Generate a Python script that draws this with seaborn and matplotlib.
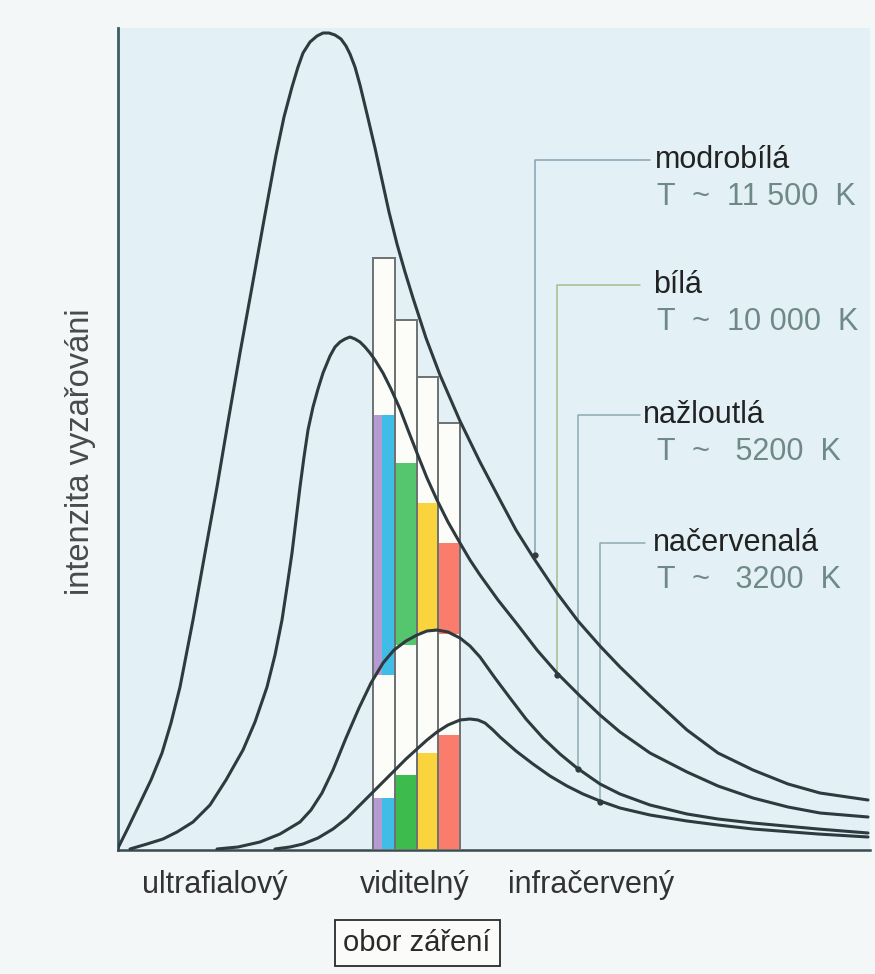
import numpy as np
import pandas as pd
import matplotlib
matplotlib.use("Agg")
import matplotlib.pyplot as plt
import seaborn as sns

# vyzarovani cerneho telesa (libovolne jednotky)
x_11500 = [0, 10, 22, 33, 44, 53, 62, 75, 87, 99, 110, 122, 134, 146, 158, 166, 174, 180, 185, 192,
           199, 205, 211, 217, 223, 228, 232, 237, 242, 249, 257, 264, 271, 279, 287, 295, 308, 322, 342, 362,
           382, 398, 415, 439, 460, 482, 502, 532, 569, 600, 635, 670, 702, 750]
y_11500 = [2, 22, 47, 70, 97, 127, 163, 230, 297, 363, 428, 497, 563, 630, 695, 733, 763, 783, 797, 808,
           814, 817, 817, 815, 811, 804, 796, 783, 765, 736, 702, 670, 638, 606, 578, 552, 512, 475, 429, 388,
           350, 320, 293, 257, 229, 204, 183, 154, 120, 97, 80, 66, 57, 50]

x_10000 = [12, 29, 45, 59, 75, 92, 108, 125, 137, 149, 157, 164, 169, 174, 178, 182, 186, 190, 195, 200,
           205, 212, 217, 222, 227, 232, 237, 242, 247, 252, 257, 265, 273, 282, 290, 299, 309, 319, 330, 342,
           352, 362, 380, 399, 419, 439, 462, 482, 502, 532, 569, 600, 635, 670, 702, 750]
y_10000 = [1, 6, 11, 18, 28, 45, 70, 100, 128, 163, 195, 230, 263, 297, 330, 363, 393, 420, 443, 461,
           477, 494, 503, 508, 511, 513, 511, 508, 503, 497, 490, 477, 461, 441, 420, 397, 372, 350, 328, 307,
           290, 275, 250, 226, 200, 177, 154, 135, 118, 97, 78, 64, 52, 43, 37, 33]

x_5200 = [99, 120, 142, 162, 182, 193, 204, 215, 228, 241, 253, 265, 276, 288, 299, 309, 319, 330, 342, 352,
          362, 377, 392, 408, 425, 442, 459, 482, 502, 532, 569, 600, 635, 700, 750]
y_5200 = [1, 3, 8, 16, 28, 40, 57, 80, 112, 142, 167, 187, 200, 209, 215, 219, 220, 218, 212, 204,
          193, 172, 152, 131, 112, 96, 82, 66, 56, 45, 36, 31, 27, 21, 17]

x_3200 = [157, 172, 185, 200, 215, 229, 242, 258, 275, 288, 299, 309, 319, 330, 342, 352, 360, 367, 375, 382,
          398, 415, 432, 449, 465, 482, 502, 532, 569, 600, 635, 700, 750]
y_3200 = [1, 3, 6, 12, 21, 32, 45, 61, 78, 91, 101, 110, 118, 125, 130, 131, 130, 127, 120, 113,
          99, 86, 74, 64, 56, 49, 42, 35, 29, 25, 21, 16, 13]

# viditelna oblast - sloupce
col_left = [255, 277, 299, 320]
col_right = [277, 299, 320, 342]
col_top = [592, 530, 473, 427]          # uroven krivky 11 500 K

# barevne pruhy (fialova, modra, zelena, zluta, cervena)
band_left = [255, 264, 277, 299, 320]
band_right = [264, 277, 299, 320, 342]
band_colors = ["#b59bd2", "#3fbde6", "#55c56e", "#f9d43c", "#f97c6c"]
band_low_colors = ["#b59bd2", "#3fbde6", "#3dbb4c", "#f9d43c", "#f97c6c"]
upper_top = [435, 435, 387, 347, 307]      # 10 000 K
upper_bottom = [175, 175, 205, 218, 216]   # 5200 K
lower_top = [52, 52, 75, 97, 115]          # 3200 K

# popisky
names = ["modrobílá", "bílá", "nažloutlá", "načervenalá"]
temps = ["T  ~  11 500  K", "T  ~  10 000  K", "T  ~   5200  K", "T  ~   3200  K"]
lead_x = [417, 439, 460, 482]
lead_y = [295, 175, 81, 48]
lead_top = [690, 565, 435, 307]
lead_end = [532, 522, 522, 527]
name_x = [537, 535, 525, 535]
regions = ["ultrafialový", "viditelný", "infračervený"]
region_x = [97, 297, 473]

df = pd.concat([
    pd.DataFrame({"x": x_11500, "y": y_11500, "T": "11500"}),
    pd.DataFrame({"x": x_10000, "y": y_10000, "T": "10000"}),
    pd.DataFrame({"x": x_5200, "y": y_5200, "T": "5200"}),
    pd.DataFrame({"x": x_3200, "y": y_3200, "T": "3200"}),
])

sns.set_theme(style="white")
plt.rcParams["font.family"] = ["Liberation Sans", "DejaVu Sans"]

fig = plt.figure(figsize=(8.75, 9.74), dpi=100, facecolor="#f4f7f7")
ax = fig.add_axes([118 / 875, 124 / 974, 752 / 875, 822 / 974])
ax.set_facecolor("#e3f1f6")

# bile sloupce
ax.bar(col_left, col_top, width=np.subtract(col_right, col_left), align="edge",
       color="#fcfcf8", edgecolor="#6e7373", linewidth=1.3, zorder=2)
# barevne casti
ax.bar(band_left, np.subtract(upper_top, upper_bottom), bottom=upper_bottom,
       width=np.subtract(band_right, band_left), align="edge", color=band_colors,
       linewidth=0, zorder=3)
ax.bar(band_left, lower_top, width=np.subtract(band_right, band_left), align="edge",
       color=band_low_colors, linewidth=0, zorder=3)
# obrysy znovu navrch
ax.bar(col_left, col_top, width=np.subtract(col_right, col_left), align="edge",
       fill=False, edgecolor="#6e7373", linewidth=1.3, zorder=4)

sns.lineplot(data=df, x="x", y="y", units="T", estimator=None, sort=False,
             color="#2e3a3e", linewidth=2.2, ax=ax, zorder=6)

# vynasecky k popiskum
lead_cols = ["#86a3b0", "#a9bb8f", "#8fa8b3", "#8fa8b3"]
for i in range(4):
    ax.plot([lead_x[i], lead_x[i], lead_end[i]], [lead_y[i], lead_top[i], lead_top[i]],
            color=lead_cols[i], linewidth=1.1, zorder=5)
    ax.plot(lead_x[i], lead_y[i], "o", color="#2e3a3e", markersize=3.5, zorder=7)
    ax.text(name_x[i], lead_top[i], names[i], fontsize=22, color="#222222",
            va="center", ha="left", clip_on=False)
    ax.text(539, lead_top[i] - 37, temps[i], fontsize=22, color="#6f8888",
            va="center", ha="left", clip_on=False)

for lab, xx in zip(regions, region_x):
    ax.text(xx, -35, lab, fontsize=22, color="#333333", ha="center", va="center", clip_on=False)

ax.text(299, -93, "obor záření", fontsize=21, color="#2a2a2a", ha="center", va="center",
        clip_on=False, bbox=dict(boxstyle="square,pad=0.3", facecolor="#fbfbf9",
                                 edgecolor="#2a2a2a", linewidth=1.3))

ax.text(-38, 398, "intenzita vyzařováni", fontsize=23.5, color="#4a4a4a", rotation=90,
        ha="center", va="center", clip_on=False)

ax.set_xlim(0, 752)
ax.set_ylim(0, 822)
ax.set_xticks([])
ax.set_yticks([])
ax.set_xlabel("")
ax.set_ylabel("")
for s in ["top", "right"]:
    ax.spines[s].set_visible(False)
ax.spines["left"].set_color("#3e5b62")
ax.spines["left"].set_linewidth(2)
ax.spines["bottom"].set_color("#3a4a4e")
ax.spines["bottom"].set_linewidth(1.8)

fig.savefig("out.png", dpi=100, facecolor=fig.get_facecolor())
